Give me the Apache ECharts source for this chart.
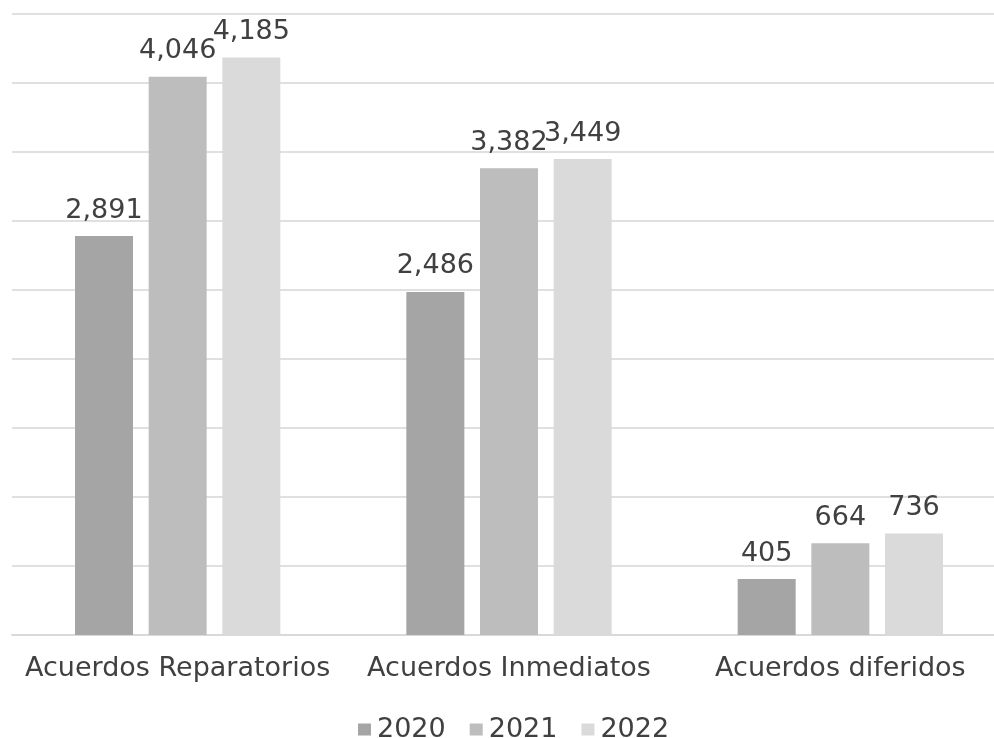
<!DOCTYPE html>
<html>
<head>
<meta charset="utf-8">
<script src="https://cdn.jsdelivr.net/npm/echarts@6/dist/echarts.min.js"></script>
<style>
  html, body { margin: 0; padding: 0; background: #fff; overflow: hidden; }
  #chart { width: 1006px; height: 738px; }
</style>
</head>
<body>
<div id="chart"></div>
<script>
// Categories and yearly totals
const categories = ['Acuerdos Reparatorios', 'Acuerdos Inmediatos', 'Acuerdos diferidos'];
const years = ['2020', '2021', '2022'];
const values2020 = [2891, 2486, 405];
const values2021 = [4046, 3382, 664];
const values2022 = [4185, 3449, 736];
const yearColors = ['#a5a5a5', '#bdbdbd', '#dadada'];

const FONT = '"DejaVu Sans", sans-serif';
const TEXT = '#404040';
const SIZE = 27;

const chart = echarts.init(document.getElementById('chart'));

function makeSeries(name, data, color) {
  return {
    name: name,
    type: 'bar',
    data: data,
    barWidth: 58,
    barGap: '27%',
    itemStyle: { color: color },
    label: {
      show: true,
      position: 'top',
      distance: 12,
      color: TEXT,
      fontFamily: FONT,
      fontSize: SIZE,
      formatter: p => p.value.toLocaleString('en-US')
    }
  };
}

chart.setOption({
  animation: false,
  grid: { left: 12, right: 0, top: 14, bottom: 103, containLabel: false },
  legend: {
    bottom: -10,
    left: 353,
    itemWidth: 13,
    itemHeight: 12,
    itemGap: 24,
    icon: 'rect',
    textStyle: { color: TEXT, fontFamily: FONT, fontSize: SIZE, padding: [0, 0, 0, 1] },
    data: years
  },
  xAxis: {
    type: 'category',
    data: categories,
    axisLine: { show: true, lineStyle: { color: '#d9d9d9', width: 2 } },
    axisTick: { show: false },
    axisLabel: { color: TEXT, fontFamily: FONT, fontSize: SIZE, margin: 20, interval: 0, hideOverlap: false }
  },
  yAxis: {
    type: 'value',
    min: 0,
    max: 4500,
    interval: 500,
    axisLabel: { show: false },
    axisLine: { show: false },
    axisTick: { show: false },
    splitLine: { lineStyle: { color: '#e0e0e0', width: 2 } }
  },
  series: [
    makeSeries(years[0], values2020, yearColors[0]),
    makeSeries(years[1], values2021, yearColors[1]),
    makeSeries(years[2], values2022, yearColors[2])
  ]
});
</script>
</body>
</html>
